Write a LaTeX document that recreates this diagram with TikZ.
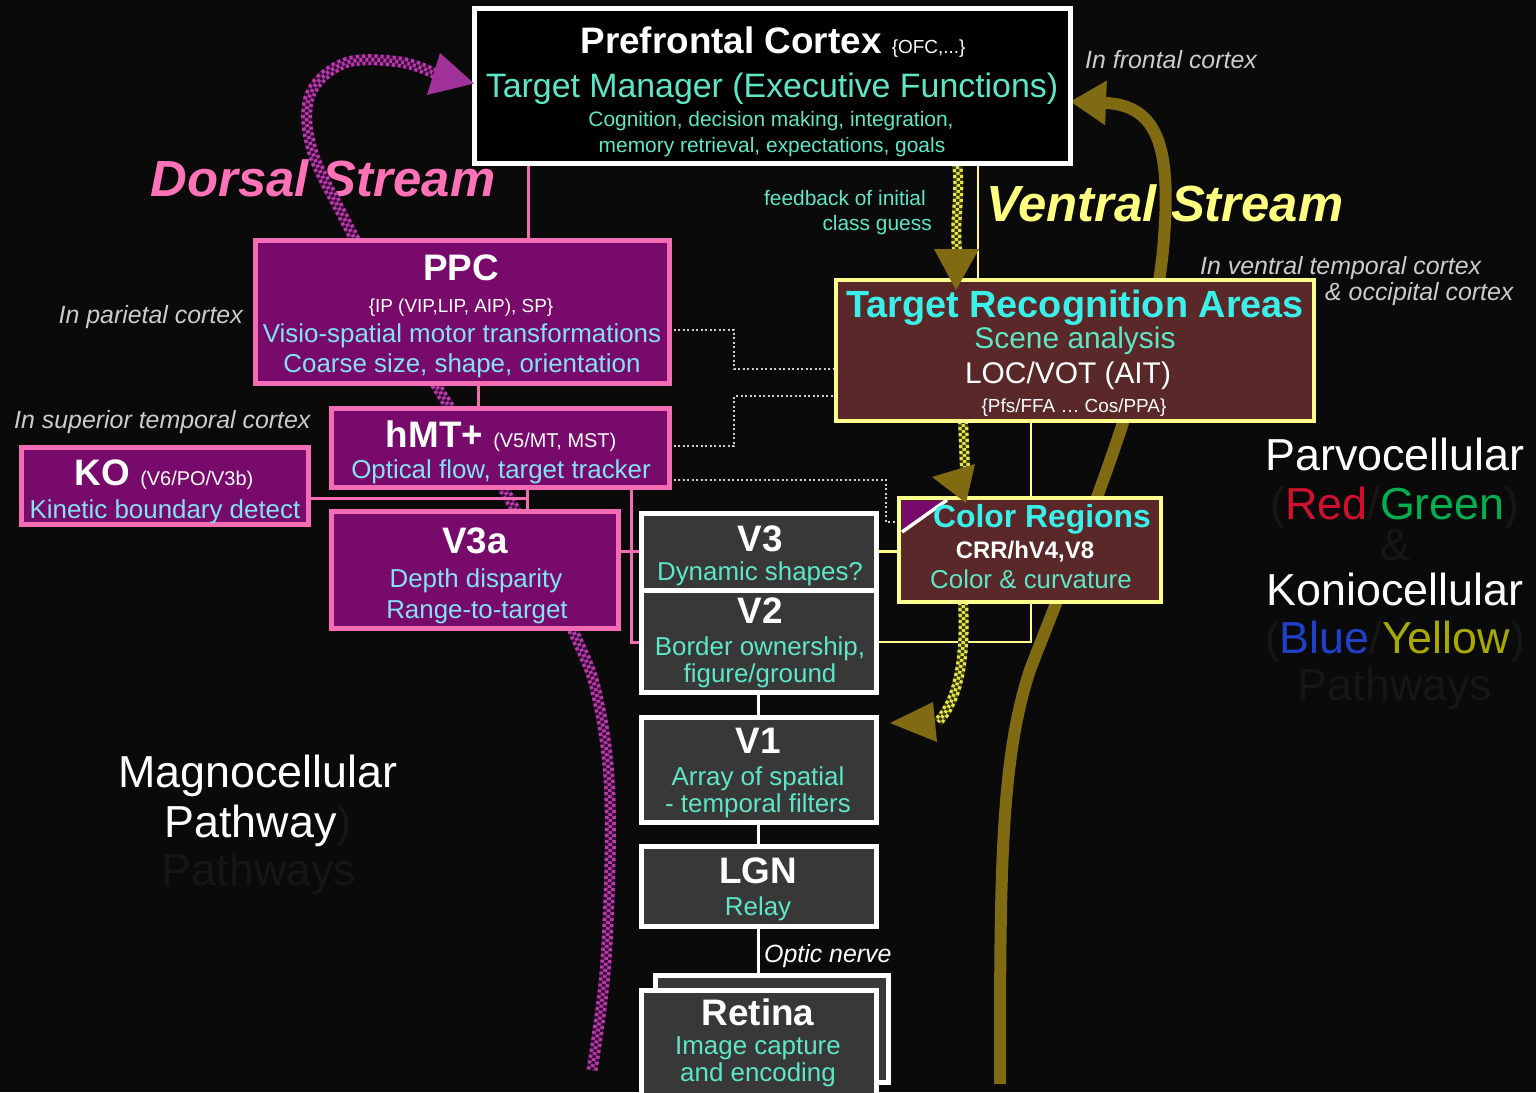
\documentclass[tikz,border=0pt]{standalone}
\usepackage{fontspec}
\setmainfont{Liberation Sans}
\usetikzlibrary{arrows.meta}
\pgfdeclarelayer{ground}
\pgfdeclarelayer{back}
\pgfsetlayers{ground,back,main}
\definecolor{bgc}{HTML}{0A0A0A}
\definecolor{pinkb}{HTML}{F46CB4}
\definecolor{dorsalc}{HTML}{FF72B8}
\definecolor{purpf}{HTML}{780A6C}
\definecolor{yelb}{HTML}{FFFF8C}
\definecolor{ventralc}{HTML}{FFFF80}
\definecolor{brownf}{HTML}{5A2828}
\definecolor{grayf}{HTML}{383838}
\definecolor{tealc}{HTML}{5EE6C6}
\definecolor{skyc}{HTML}{84E2F2}
\definecolor{cyanc}{HTML}{3CF0EA}
\definecolor{labelc}{HTML}{CCCCCC}
\definecolor{goldc}{HTML}{806A12}
\definecolor{ghostc}{HTML}{161616}
\definecolor{redc}{HTML}{D0102E}
\definecolor{greenc}{HTML}{00B050}
\definecolor{bluec}{HTML}{2040C8}
\definecolor{olivec}{HTML}{A8A800}
\definecolor{magdot}{HTML}{B63CA6}
\definecolor{magbase}{HTML}{3E0A3E}
\definecolor{maghead}{HTML}{A0329A}
\definecolor{yeldot}{HTML}{E6E64A}
\definecolor{yelbase}{HTML}{3C3C0E}
\newcommand\pxsize[1]{\fontsize{#1}{#1}\selectfont}
% thick chequered stroke: base colour, dot colour, width, path
\newcommand\checkerpath[4]{%
  \draw[#1, line width=#3] #4;
  \draw[#2, line width=#3, dash pattern=on 3bp off 3bp] #4;
  \draw[#2, line width=#3/3] #4;
  \draw[#1, line width=#3/3, dash pattern=on 3bp off 3bp] #4;
}
\begin{document}
\begin{tikzpicture}[x=1bp,y=-1bp,
  lbl/.style={inner sep=0pt, anchor=base},
  boxbase/.style={rectangle, inner sep=0pt, outer sep=0pt},
  pfcbox/.style={boxbase, draw=white, line width=5bp, fill=black},
  pbox/.style={boxbase, draw=pinkb, line width=5bp, fill=purpf},
  ybox/.style={boxbase, draw=yelb, line width=4.5bp, fill=brownf},
  gbox/.style={boxbase, draw=white, line width=5bp, fill=grayf},
  pinkline/.style={draw=pinkb, line width=3bp},
  yelline/.style={draw=yelb, line width=2.5bp},
  whiteline/.style={draw=white, line width=3.5bp},
  dotline/.style={draw=labelc, line width=2.5bp, dash pattern=on 2bp off 2.5bp},
  head/.style={lbl, text=white, font=\pxsize{37}\bfseries},
  body/.style={lbl, text=tealc, font=\pxsize{26}},
  sky/.style={lbl, text=skyc, font=\pxsize{26}},
  small/.style={lbl, text=white, font=\pxsize{19}},
  region/.style={inner sep=0pt, text=labelc, font=\pxsize{25}\itshape},
  legend/.style={lbl, font=\pxsize{45}},
]
\begin{pgfonlayer}{ground}
  \fill[bgc] (0,0) rectangle (1536,1092);
\end{pgfonlayer}
\useasboundingbox (0,0) rectangle (1536,1092);

% ---------- boxes ----------
\node[pfcbox, minimum width=596bp, minimum height=155bp] (pfc) at (772,85.5) {};
\node[ybox, minimum width=478bp, minimum height=141bp] (tra) at (1075,350.5) {};
\node[pbox, minimum width=414bp, minimum height=143bp] (ppc) at (462,311.5) {};
\node[pbox, minimum width=338bp, minimum height=79bp] (hmt) at (500,447.5) {};
\node[pbox, minimum width=286bp, minimum height=77bp] (ko) at (165,485.5) {};
\node[pbox, minimum width=287bp, minimum height=117bp] (v3a) at (474.5,569.5) {};
\node[gbox, minimum width=235bp, minimum height=102bp] (v2) at (758.5,641) {};
\node[gbox, minimum width=235bp, minimum height=77bp] (v3) at (758.5,551.5) {};
\node[gbox, minimum width=235bp, minimum height=105bp] (v1) at (758.5,769.5) {};
\node[gbox, minimum width=235bp, minimum height=80bp] (lgn) at (758.5,886) {};
\node[gbox, minimum width=233bp, minimum height=107bp] (retinaback) at (771.5,1028.5) {};
\node[gbox, minimum width=235bp, minimum height=106bp] (retina) at (758.5,1043) {};
\node[ybox, minimum width=262bp, minimum height=104bp] (color) at (1030,550) {};

% ---------- everything behind the boxes ----------
\begin{pgfonlayer}{back}
  \node[lbl, text=dorsalc, font=\pxsize{51}\bfseries\itshape] (dorsal) at (323,196) {Dorsal Stream};
  \node[lbl, text=ventralc, font=\pxsize{51}\bfseries\itshape] (ventral) at (1165,221) {Ventral Stream};

  % ventral stream sweep
  \coordinate (goldstart) at (1000,1084);
  \draw[goldc, line width=12bp, -{Triangle[width=42bp,length=36bp]}]
    (goldstart) .. controls (1000,880) and (1000,760) .. (1030,670)
    .. controls (1080,540) and (1150,380) .. (1163,250)
    .. controls (1172,150) and (1160,105) .. ([yshift=-16bp]pfc.east);

  % dorsal stream sweep
  \checkerpath{magbase}{magdot}{11bp}{plot[smooth, tension=0.6] coordinates
    {(592,1070) (606,960) (610,800) (598,700) (575,635) (510,500) (442,395)
     (385,295) (345,220) (312,150) (310,95) (345,63) (400,62) (436,74)}}

  % solid links
  \coordinate (ppcTop) at (528,240);
  \draw[pinkline] (pfc.south -| ppcTop) -- (ppcTop);
  \coordinate (traTop) at (978,280);
  \draw[yelline] (pfc.south -| traTop) -- (traTop);
  \coordinate (hmtTop) at (478,408);
  \draw[pinkline] (ppc.south -| hmtTop) -- (hmtTop);
  \coordinate (v3aTop) at (527,511);
  \draw[pinkline] (hmt.south -| v3aTop) -- (v3aTop);
  \coordinate (koJoin) at (308,498);
  \draw[pinkline] (koJoin) -- (koJoin -| v3aTop);
  \coordinate (hmtFoot) at (631,487);
  \coordinate (v2Side) at (641,642);
  \draw[pinkline] (hmtFoot) |- (v2Side);
  \draw[pinkline] (v3.west -| v3a.east) -- (v3.west);
  \draw[yelline] (v3.east) -- (v3.east -| color.west);
  \coordinate (traFoot) at (1031,421);
  \draw[yelline] (v2Side -| v2.east) -| (traFoot);
  \draw[whiteline] (v2.south) -- (v1.north);
  \draw[whiteline] (v1.south) -- (lgn.north);
  \draw[whiteline] (lgn.south) -- (retina.north);

  % dotted cross links
  \draw[dotline] ([yshift=-18.5bp]ppc.east) -- ++(65,0) |- ([yshift=-18.5bp]tra.west);
  \draw[dotline] ([yshift=1.5bp]hmt.east) -- ++(65,0) |- ([yshift=-45.5bp]tra.west);
  \draw[dotline] ([yshift=-32.5bp]hmt.east) -- ++(217,0) |- ([yshift=28bp]color.west);

  % feedback of the class guess
  \coordinate (fbA) at (957,250);
  \checkerpath{yelbase}{yeldot}{10bp}{(pfc.south -| fbA) .. controls (961,195) and (954,220) .. (fbA)}
  \coordinate (fbB) at (965,470);
  \checkerpath{yelbase}{yeldot}{10bp}{([xshift=-112bp]tra.south) -- (fbB)}
  \coordinate (fbC) at (938,722);
  \checkerpath{yelbase}{yeldot}{10bp}{([xshift=-67bp]color.south) .. controls (966,660) and (958,700) .. (fbC)}
\end{pgfonlayer}

% ---------- arrow heads ----------
\fill[maghead] ([yshift=2bp]pfc.west) -- (440,53) -- (427,95) -- cycle;
\fill[goldc] (934,249) -- (979,249) -- ([xshift=-119bp,yshift=-10bp]tra.north) -- cycle;
\fill[goldc] (932,477) -- (975,464) -- ([xshift=-64bp,yshift=-5bp]color.north) -- cycle;
\fill[goldc] (933,702) -- (937,742) -- ([xshift=14bp,yshift=46.5bp]v1.east) -- cycle;

% corner mark of the colour box
\fill[purpf] (902,501) -- (944,501) -- (902,530) -- cycle;
\draw[white, line width=3.5bp] (902,532) -- (947,500);

% ---------- box texts ----------
\node[head] (pfcA) at (773,53) {Prefrontal Cortex~{\pxsize{19}\mdseries\{OFC,...\}}};
\node[lbl, text=tealc, font=\pxsize{34}] (pfcB) at (772,97) {Target Manager (Executive Functions)};
\node[lbl, text=tealc, font=\pxsize{21}] (pfcC) at (771,126) {Cognition, decision making, integration,};
\node[lbl, text=tealc, font=\pxsize{21}] (pfcD) at (772,152) {memory retrieval, expectations, goals};

\node[lbl, text=cyanc, font=\pxsize{38}\bfseries] (traA) at (1075,317) {Target Recognition Areas};
\node[lbl, text=tealc, font=\pxsize{30}] (traB) at (1075,348) {Scene analysis};
\node[lbl, text=white, font=\pxsize{30}] (traC) at (1068,383) {LOC/VOT (AIT)};
\node[small] (traD) at (1074,412) {\{Pfs/FFA … Cos/PPA\}};

\node[head] (ppcA) at (461,280) {PPC};
\node[small] (ppcB) at (461,312) {\{IP (VIP,LIP, AIP), SP\}};
\node[sky] (ppcC) at (462,342) {Visio-spatial motor transformations};
\node[sky] (ppcD) at (462,372) {Coarse size, shape, orientation};

\node[head] (hmtA) at (501,447) {hMT+~{\pxsize{20}\mdseries(V5/MT, MST)}};
\node[sky] (hmtB) at (501,478) {Optical flow, target tracker};

\node[head] (koA) at (164,485) {KO~{\pxsize{20}\mdseries(V6/PO/V3b)}};
\node[sky] (koB) at (165,518) {Kinetic boundary detect};

\node[head] (v3aA) at (475,553) {V3a};
\node[sky] (v3aB) at (476,587) {Depth disparity};
\node[sky] (v3aC) at (477,618) {Range-to-target};

\node[head] (v3A) at (760,551) {V3};
\node[body] (v3B) at (760,580) {Dynamic shapes?};
\node[head] (v2A) at (760,623) {V2};
\node[body] (v2B) at (760,655) {Border ownership,};
\node[body] (v2C) at (760,682) {figure/ground};

\node[head] (v1A) at (758,753) {V1};
\node[body] (v1B) at (758,785) {Array of spatial};
\node[body] (v1C) at (758,812) {- temporal filters};
\node[head] (lgnA) at (758,883) {LGN};
\node[body] (lgnB) at (758,915) {Relay};
\node[lbl, anchor=base west, text=white, font=\pxsize{25}\itshape] (optic) at (764,962) {Optic nerve};
\node[head] (retA) at (758,1025) {Retina};
\node[body] (retB) at (758,1054) {Image capture};
\node[body] (retC) at (758,1081) {and encoding};

\node[lbl, text=cyanc, font=\pxsize{32}\bfseries] (colA) at (1042,527) {Color Regions};
\node[lbl, text=white, font=\pxsize{24}\bfseries] (colB) at (1025,558) {CRR/hV4,V8};
\node[body] (colC) at (1031,588) {Color \& curvature};

% ---------- side labels ----------
\node[lbl, anchor=base east, text=tealc, font=\pxsize{21}] (fbText1) at (926,205) {feedback of initial};
\node[lbl, anchor=base east, text=tealc, font=\pxsize{21}] (fbText2) at (932,230) {class guess};

\node[region, anchor=base west] (frontal) at (1085,68) {In frontal cortex};
\node[region, anchor=base east] (parietal) at (243,323) {In parietal cortex};
\node[region, anchor=base west] (suptemp) at (14,428) {In superior temporal cortex};
\node[region, anchor=base west] (ventemp) at (1200,274) {In ventral temporal cortex};
\node[region, anchor=base west] (occip) at (1325,300) {\& occipital cortex};

\node[legend, text=white] (parvo) at (1395,470) {Parvocellular};
\node[legend] (redgreen) at (1395,519) {\textcolor{ghostc}{(}\textcolor{redc}{Red}\textcolor{ghostc}{/}\textcolor{greenc}{Green}\textcolor{ghostc}{)}};
\node[legend, text=ghostc] (amp) at (1395,560) {\&};
\node[legend, text=white] (konio) at (1395,605) {Koniocellular};
\node[legend] (blueyellow) at (1395,653) {\textcolor{ghostc}{(}\textcolor{bluec}{Blue}\textcolor{ghostc}{/}\textcolor{olivec}{Yellow}\textcolor{ghostc}{)}};
\node[legend, text=ghostc] (pathsR) at (1395,700) {Pathways};

\node[legend, text=white] (magno) at (258,787) {Magnocellular};
\node[legend] (magnoB) at (258,837) {\textcolor{white}{Pathway}\textcolor{ghostc}{)}};
\node[legend, text=ghostc] (pathsL) at (259,885) {Pathways};
\end{tikzpicture}
\end{document}
